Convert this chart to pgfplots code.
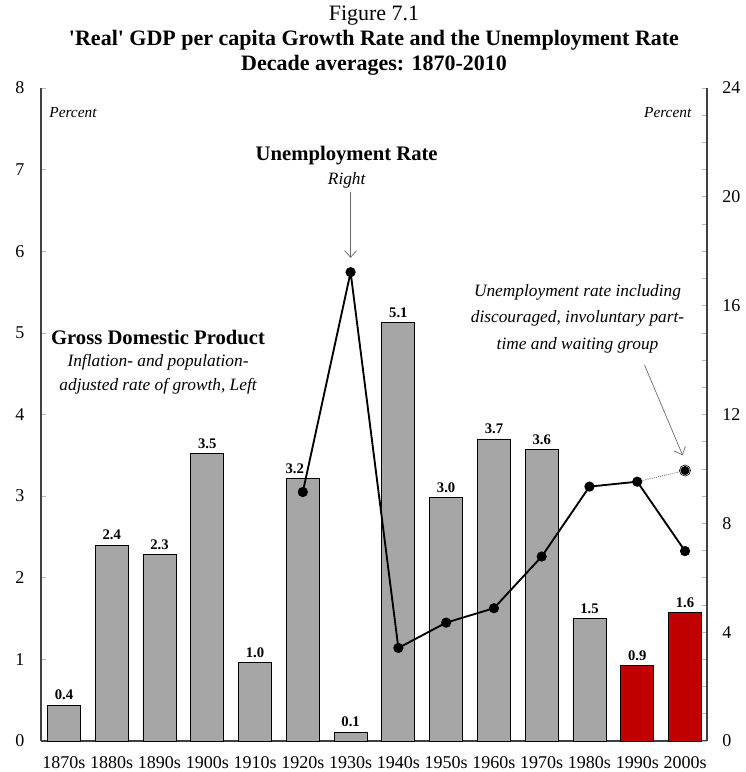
\documentclass[border=0pt]{standalone}
\usepackage{fontspec}
\setmainfont{Liberation Serif}
\usepackage{pgfplots}
\pgfplotsset{compat=1.18}
\usetikzlibrary{arrows.meta}

\definecolor{bargray}{HTML}{A6A6A6}
\definecolor{barred}{HTML}{C00000}

\pgfplotstableread{
x  gdp
0  0.44
1  2.40
2  2.28
3  3.52
4  0.96
5  3.22
6  0.11
7  5.13
8  2.98
9  3.70
10 3.57
11 1.50
}\gdpgray
\pgfplotstableread{
x  gdp
12 0.92
13 1.57
}\gdpred
\pgfplotstableread{
x  u
5  9.15
6  17.23
7  3.42
8  4.35
9  4.88
10 6.78
11 9.35
12 9.53
13 6.98
}\unemp

\begin{document}
\begin{tikzpicture}
\pgfplotsset{
  every axis/.append style={
    width=499.5pt, height=489.75pt, scale only axis,
    xmin=-0.48, xmax=13.46,
    axis line style={black!75, line width=1.2pt},
    tick align=inside,
    major tick length=4pt, minor tick length=4pt,
    tick style={gray!55, line width=0.5pt},
    /pgf/number format/assume math mode=true,
    tick label style={font=\fontsize{13.5}{15}\selectfont},
  },
}
\begin{axis}[
  name=main,
  ymin=0, ymax=8,
  ytick={0,1,...,8},
  ytick pos=left,
  axis y line*=left,
  axis x line*=bottom,
  yticklabel style={xshift=-9pt},
  xtick={0,1,...,13},
  xticklabels={1870s,1880s,1890s,1900s,1910s,1920s,1930s,1940s,1950s,1960s,1970s,1980s,1990s,2000s},
  xtick style={draw=none},
  x tick label style={yshift=-4pt},
  ybar, bar width=24.75pt,
  nodes near coords,
  visualization depends on={ifthenelse(x==5,-6,0) \as \lblshift},
  every node near coord/.append style={font=\bfseries\fontsize{11}{13}\selectfont, text=black, xshift=\lblshift pt, /pgf/number format/.cd, fixed, precision=1, zerofill},
  clip=false,
]
\addplot[bar shift=0pt, fill=bargray, draw=black, line width=0.7pt] table[x=x,y=gdp] {\gdpgray};
\addplot[bar shift=0pt, fill=barred, draw=black, line width=0.7pt] table[x=x,y=gdp] {\gdpred};

% annotations
\node[font=\itshape\fontsize{11.5}{13}\selectfont] at (rel axis cs:0.048,0.963) {Percent};
\node[font=\itshape\fontsize{11.5}{13}\selectfont] at (rel axis cs:0.941,0.963) {Percent};
\node[font=\bfseries\fontsize{15.5}{17}\selectfont] at (rel axis cs:0.459,0.897) {Unemployment Rate};
\node[font=\itshape\fontsize{13}{15}\selectfont] at (rel axis cs:0.459,0.859) {Right};
\draw[gray!80!black, line width=0.5pt, -{Straight Barb[length=5pt,width=9pt]}] (axis cs:6,6.72) -- (axis cs:6,5.92);
\node[font=\bfseries\fontsize{15.5}{17}\selectfont] at (axis cs:1.97,4.94) {Gross Domestic Product};
\node[font=\itshape\fontsize{13}{15}\selectfont] at (axis cs:1.97,4.64) {Inflation- and population-};
\node[font=\itshape\fontsize{13}{15}\selectfont] at (axis cs:1.97,4.35) {adjusted rate of growth, Left};
\node[font=\itshape\fontsize{13}{15}\selectfont] at (axis cs:10.75,5.50) {Unemployment rate including};
\node[font=\itshape\fontsize{13}{15}\selectfont] at (axis cs:10.75,5.18) {discouraged, involuntary part-};
\node[font=\itshape\fontsize{13}{15}\selectfont] at (axis cs:10.75,4.85) {time and waiting group};
\draw[gray!80!black, line width=0.5pt, -{Straight Barb[length=5pt,width=9pt]}] (axis cs:12.15,4.61) -- (axis cs:12.95,3.50);

% title
\node[align=center, anchor=south, font=\fontsize{16.5}{18.75}\selectfont] at (rel axis cs:0.5,1.012)
  {Figure 7.1\\ \bfseries \textquotesingle Real\textquotesingle{} GDP per capita Growth Rate and the Unemployment Rate\\ \bfseries Decade averages: 1870-2010};
\end{axis}

\begin{axis}[
  ymin=0, ymax=24,
  axis y line*=right,
  axis x line=none,
  ytick={0,4,...,24},
  minor ytick={1,...,23},
  yticklabel style={xshift=8pt},
  clip=false,
]
\addplot[black, line width=1.4pt, mark=*, mark size=3.1pt] table[x=x,y=u] {\unemp};
\addplot[black!70, densely dotted, line width=0.6pt] coordinates {(12,9.53) (13,9.94)};
\addplot[only marks, mark=*, mark size=4.2pt, draw=none, fill=gray!30] coordinates {(13,9.94)};
\addplot[only marks, mark=*, mark size=3.1pt, draw=black, fill=black] coordinates {(13,9.94)};
\end{axis}
\pgfresetboundingbox
\path ([xshift=-30.75pt, yshift=-23.25pt]main.south west) rectangle ([xshift=28.5pt, yshift=66pt]main.north east);
\end{tikzpicture}
\end{document}
